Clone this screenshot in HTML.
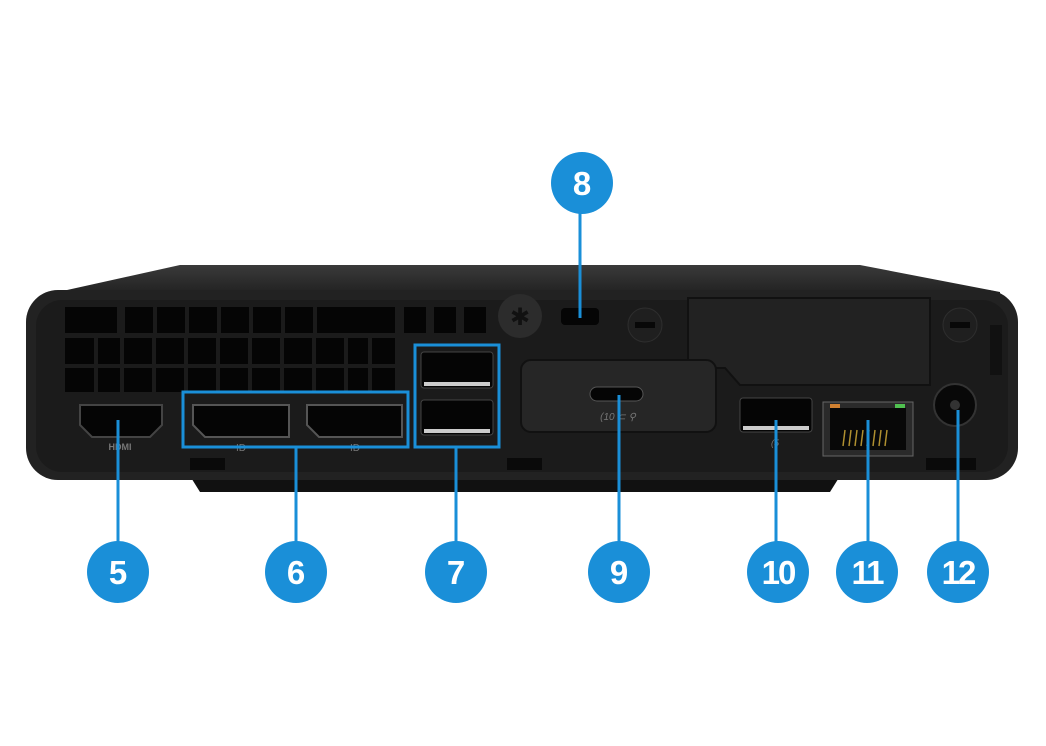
<!DOCTYPE html>
<html><head><style>body{margin:0;background:#fff}svg{display:block}</style></head><body>
<svg width="1046" height="746" viewBox="0 0 1046 746" xmlns="http://www.w3.org/2000/svg" font-family="Liberation Sans, sans-serif">
<defs><linearGradient id="top" x1="0" y1="0" x2="0" y2="1"><stop offset="0" stop-color="#3a3a3a"/><stop offset="1" stop-color="#1c1c1c"/></linearGradient></defs>
<path d="M40 296 L180 265 L860 265 L1000 292 L1000 300 L40 300Z" fill="url(#top)"/>
<path d="M190 476 L840 476 L830 492 L200 492Z" fill="#111"/>
<rect x="26" y="290" width="992" height="190" rx="32" fill="#222"/>
<rect x="36" y="300" width="972" height="172" rx="26" fill="#1b1b1b"/>
<g fill="#050505">
<rect x="65" y="307" width="52" height="26"/><rect x="125" y="307" width="28" height="26"/><rect x="157" y="307" width="28" height="26"/><rect x="189" y="307" width="28" height="26"/><rect x="221" y="307" width="28" height="26"/><rect x="253" y="307" width="28" height="26"/><rect x="285" y="307" width="28" height="26"/><rect x="317" y="307" width="28" height="26"/><rect x="343" y="307" width="52" height="26"/><rect x="404" y="307" width="22" height="26"/><rect x="434" y="307" width="22" height="26"/><rect x="464" y="307" width="22" height="26"/>
<rect x="65" y="338" width="330" height="26"/><rect x="65" y="368" width="330" height="24"/>
</g>
<g stroke="#1b1b1b" stroke-width="4">
<line x1="122" y1="336" x2="122" y2="394"/><line x1="154" y1="336" x2="154" y2="394"/><line x1="186" y1="336" x2="186" y2="394"/><line x1="218" y1="336" x2="218" y2="394"/><line x1="250" y1="336" x2="250" y2="394"/><line x1="282" y1="336" x2="282" y2="394"/><line x1="314" y1="336" x2="314" y2="394"/><line x1="346" y1="336" x2="346" y2="394"/><line x1="96" y1="336" x2="96" y2="394"/><line x1="370" y1="336" x2="370" y2="394"/>
</g>
<path d="M688 298 L930 298 L930 385 L740 385 L725 368 L688 368Z" fill="#222" stroke="#111" stroke-width="2"/>
<circle cx="520" cy="316" r="22" fill="#2c2c2c"/>
<text x="520" y="325" fill="#111" font-size="24" text-anchor="middle">✱</text>
<rect x="561" y="308" width="38" height="17" rx="4" fill="#050505"/>
<circle cx="645" cy="325" r="17" fill="#1f1f1f" stroke="#2e2e2e"/><rect x="635" y="322" width="20" height="6" fill="#080808"/>
<circle cx="960" cy="325" r="17" fill="#1f1f1f" stroke="#2e2e2e"/><rect x="950" y="322" width="20" height="6" fill="#080808"/>
<rect x="990" y="325" width="12" height="50" fill="#111"/>
<rect x="521" y="360" width="195" height="72" rx="10" fill="#262626" stroke="#111" stroke-width="2"/>
<rect x="590" y="387" width="53" height="14" rx="7" fill="#050505" stroke="#555"/>
<text x="618" y="420" fill="#777" font-size="10" text-anchor="middle" font-style="italic">(10 ⊂ ⚲</text>
<path d="M80 405 L162 405 L162 425 L150 437 L92 437 L80 425Z" fill="#050505" stroke="#444" stroke-width="2"/>
<text x="120" y="450" fill="#777" font-size="9" text-anchor="middle" font-weight="bold">HDMI</text>
<path d="M193 405 L289 405 L289 437 L205 437 L193 425Z" fill="#050505" stroke="#555" stroke-width="2"/>
<path d="M307 405 L402 405 L402 437 L319 437 L307 425Z" fill="#050505" stroke="#555" stroke-width="2"/>
<text x="241" y="451" fill="#777" font-size="10" text-anchor="middle">ID</text><text x="355" y="451" fill="#777" font-size="10" text-anchor="middle">ID</text>
<rect x="421" y="352" width="72" height="36" rx="3" fill="#050505" stroke="#444"/><rect x="424" y="382" width="66" height="4" fill="#ccc"/>
<rect x="421" y="400" width="72" height="35" rx="3" fill="#050505" stroke="#444"/><rect x="424" y="429" width="66" height="4" fill="#ccc"/>
<rect x="740" y="398" width="72" height="34" rx="3" fill="#050505" stroke="#444"/><rect x="743" y="426" width="66" height="4" fill="#ccc"/>
<text x="775" y="446" fill="#777" font-size="9" text-anchor="middle" font-style="italic">(5</text>
<rect x="823" y="402" width="90" height="54" fill="#2a2a2a" stroke="#666"/>
<rect x="830" y="408" width="76" height="42" fill="#080808"/>
<rect x="830" y="404" width="10" height="4" fill="#d08030"/><rect x="895" y="404" width="10" height="4" fill="#50c050"/>
<g stroke="#b09030" stroke-width="1.5"><line x1="845" y1="430" x2="843" y2="446"/><line x1="851" y1="430" x2="849" y2="446"/><line x1="857" y1="430" x2="855" y2="446"/><line x1="863" y1="430" x2="861" y2="446"/><line x1="869" y1="430" x2="867" y2="446"/><line x1="875" y1="430" x2="873" y2="446"/><line x1="881" y1="430" x2="879" y2="446"/><line x1="887" y1="430" x2="885" y2="446"/></g>
<circle cx="955" cy="405" r="21" fill="#080808" stroke="#333" stroke-width="2"/><circle cx="955" cy="405" r="5" fill="#333"/>
<rect x="926" y="458" width="50" height="12" fill="#0a0a0a"/>
<rect x="190" y="458" width="35" height="12" fill="#0a0a0a"/><rect x="507" y="458" width="35" height="12" fill="#0a0a0a"/>
<g stroke="#1a8fd8" fill="none" stroke-width="3">
<rect x="183" y="392" width="225" height="55"/><rect x="415" y="345" width="84" height="102"/>
<line x1="118" y1="420" x2="118" y2="545"/><line x1="296" y1="447" x2="296" y2="545"/><line x1="456" y1="447" x2="456" y2="545"/>
<line x1="619" y1="395" x2="619" y2="545"/><line x1="776" y1="420" x2="776" y2="545"/><line x1="868" y1="420" x2="868" y2="545"/><line x1="958" y1="410" x2="958" y2="545"/><line x1="580" y1="210" x2="580" y2="318"/>
</g>
<g fill="#1a8fd8"><circle cx="118" cy="572" r="31"/><circle cx="296" cy="572" r="31"/><circle cx="456" cy="572" r="31"/><circle cx="619" cy="572" r="31"/><circle cx="778" cy="572" r="31"/><circle cx="867" cy="572" r="31"/><circle cx="958" cy="572" r="31"/><circle cx="582" cy="183" r="31"/></g>
<g fill="#fff" font-size="33" font-weight="bold" text-anchor="middle">
<text x="118" y="584">5</text><text x="296" y="584">6</text><text x="456" y="584">7</text><text x="619" y="584">9</text><text x="778" y="584" letter-spacing="-2">10</text><text x="867" y="584" letter-spacing="-2">11</text><text x="958" y="584" letter-spacing="-2">12</text><text x="582" y="195">8</text>
</g>
</svg>
</body></html>
